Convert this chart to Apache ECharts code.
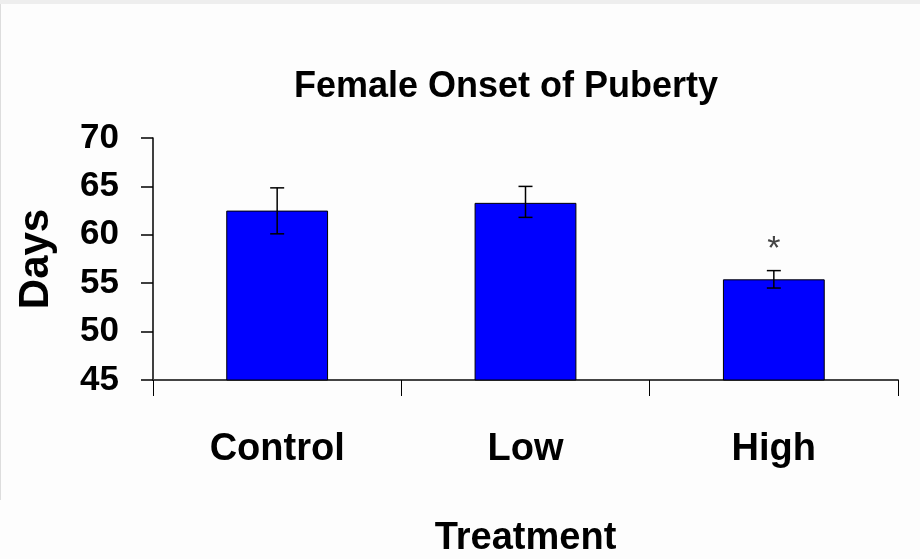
<!DOCTYPE html>
<html>
<head>
<meta charset="utf-8">
<script src="https://cdn.jsdelivr.net/npm/echarts@6/dist/echarts.min.js"></script>
<style>
  html, body { margin: 0; padding: 0; background: #fdfdfd; }
  #chart { width: 920px; height: 559px; }
</style>
</head>
<body>
<div id="chart"></div>
<script>
// data
const categories = ["Control", "Low", "High"];
const meanDays = [62.5, 63.3, 55.4];
const errLow = [60.1, 61.8, 54.5];
const errHigh = [64.85, 65.0, 56.3];
const sigMarks = ["", "", "*"];
const yTicks = [45, 50, 55, 60, 65, 70];

const font = "'Liberation Sans', Arial, sans-serif";
const chart = echarts.init(document.getElementById("chart"));

const option = {
  backgroundColor: "#fdfdfd",
  animation: false,
  // thin grey frame at top / left like the screenshot
  graphic: [
    { type: "rect", shape: { x: 0, y: 0, width: 920, height: 4 }, style: { fill: "#eeeeee" } },
    { type: "rect", shape: { x: 0, y: 4, width: 1, height: 496 }, style: { fill: "#dddddd" } }
  ],
  title: {
    text: "Female Onset of Puberty",
    left: 501,
    top: 64,
    textAlign: "center",
    textStyle: { fontFamily: font, fontSize: 36, fontWeight: "bold", color: "#000" }
  },
  grid: { left: 153, right: 22, top: 138, bottom: 178 },
  xAxis: {
    type: "category",
    data: categories,
    name: "Treatment",
    nameLocation: "middle",
    nameGap: 140,
    nameTextStyle: { fontFamily: font, fontSize: 38, fontWeight: "bold", color: "#000" },
    axisLine: { lineStyle: { color: "#444", width: 2 } },
    axisTick: { show: true, alignWithLabel: false, length: 16, lineStyle: { color: "#000", width: 1 } },
    axisLabel: { margin: 51, fontFamily: font, fontSize: 38, fontWeight: "bold", color: "#000" }
  },
  yAxis: {
    type: "value",
    min: yTicks[0],
    max: yTicks[yTicks.length - 1],
    interval: 5,
    name: "Days",
    nameLocation: "middle",
    nameGap: 96,
    nameTextStyle: { fontFamily: font, fontSize: 42, fontWeight: "bold", color: "#000" },
    axisLine: { show: true, lineStyle: { color: "#000", width: 1.5 } },
    axisTick: { show: true, length: 12, lineStyle: { color: "#000", width: 1.5 } },
    splitLine: { show: false },
    axisLabel: { margin: 34, fontFamily: font, fontSize: 35, fontWeight: "bold", color: "#000" }
  },
  series: [
    {
      type: "bar",
      data: meanDays,
      barWidth: "41%",
      itemStyle: { color: "#0000ff", borderColor: "#000", borderWidth: 1 }
    },
    {
      type: "custom",
      data: categories.map((c, i) => [i, errLow[i], errHigh[i]]),
      renderItem: function (params, api) {
        const i = api.value(0);
        const lo = api.coord([i, api.value(1)]);
        const hi = api.coord([i, api.value(2)]);
        const half = 7;
        const st = { stroke: "#000", lineWidth: 1.5 };
        const kids = [
          { type: "line", shape: { x1: hi[0], y1: hi[1], x2: lo[0], y2: lo[1] }, style: st },
          { type: "line", shape: { x1: hi[0] - half, y1: hi[1], x2: hi[0] + half, y2: hi[1] }, style: st },
          { type: "line", shape: { x1: lo[0] - half, y1: lo[1], x2: lo[0] + half, y2: lo[1] }, style: st }
        ];
        if (sigMarks[i]) {
          kids.push({
            type: "text",
            style: {
              text: sigMarks[i], x: hi[0], y: hi[1] - 38,
              align: "center", verticalAlign: "top",
              font: "34px " + font, fill: "#444"
            }
          });
        }
        return { type: "group", children: kids };
      },
      z: 5
    }
  ]
};
chart.setOption(option);
</script>
</body>
</html>
